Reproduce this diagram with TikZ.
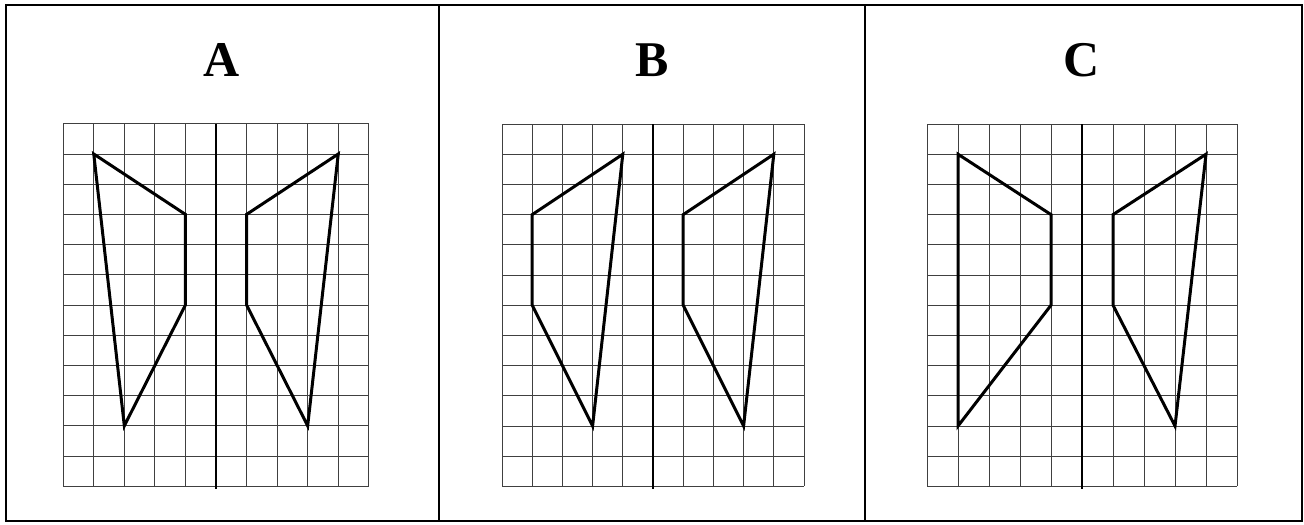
\documentclass[tikz,border=0pt]{standalone}
\usepackage{fontspec}
\setmainfont{Liberation Serif}
\usetikzlibrary{positioning}

\begin{document}
\begin{tikzpicture}[x=0.5pt, y=-0.5pt,
    frame/.style={line width=1pt, draw=black},
    letter/.style={font=\fontsize{25}{30}\selectfont\bfseries, inner sep=0pt},
    gridline/.style={line width=0.5pt, draw=black!75},
    axisline/.style={line width=1.1pt, draw=black},
    wing/.style={line width=1.5pt, line join=miter, draw=black}
]
    \useasboundingbox (0,0) rectangle (1304,524);

    % Panels
    \draw[frame] (6,5) rectangle (1302,521);
    \draw[frame] (438.5,5) -- (438.5,521);
    \draw[frame] (865,5) -- (865,521);

    % Letters
    \node[letter] (la) at (222,60) {A};
    \node[letter] (lb) at (652,60) {B};
    \node[letter] (lc) at (1082,60) {C};

    % Grid A
    \begin{scope}[xshift=108pt, yshift=-61.9pt, x=15.28pt, y=-15.1pt]
        \foreach \i in {-5,...,5} \draw[gridline] (\i,0) -- (\i,12);
        \foreach \j in {0,...,12} \draw[gridline] (-5,\j) -- (5,\j);
        \draw[axisline] (0,0) -- (0,12.08);
        \draw[wing] (-4,1) -- (-1,3) -- (-1,6) -- (-3,10) -- cycle;
        \draw[wing] (4,1) -- (1,3) -- (1,6) -- (3,10) -- cycle;
    \end{scope}

    % Grid B
    \begin{scope}[xshift=326.5pt, yshift=-62pt, x=15.1pt, y=-15.1pt]
        \foreach \i in {-5,...,5} \draw[gridline] (\i,0) -- (\i,12);
        \foreach \j in {0,...,12} \draw[gridline] (-5,\j) -- (5,\j);
        \draw[axisline] (0,0) -- (0,12.08);
        \draw[wing] (-1,1) -- (-4,3) -- (-4,6) -- (-2,10) -- cycle;
        \draw[wing] (4,1) -- (1,3) -- (1,6) -- (3,10) -- cycle;
    \end{scope}

    % Grid C
    \begin{scope}[xshift=541pt, yshift=-62pt, x=15.5pt, y=-15.1pt]
        \foreach \i in {-5,...,5} \draw[gridline] (\i,0) -- (\i,12);
        \foreach \j in {0,...,12} \draw[gridline] (-5,\j) -- (5,\j);
        \draw[axisline] (0,0) -- (0,12.08);
        \draw[wing] (-4,1) -- (-1,3) -- (-1,6) -- (-4,10) -- cycle;
        \draw[wing] (4,1) -- (1,3) -- (1,6) -- (3,10) -- cycle;
    \end{scope}
\end{tikzpicture}
\end{document}
